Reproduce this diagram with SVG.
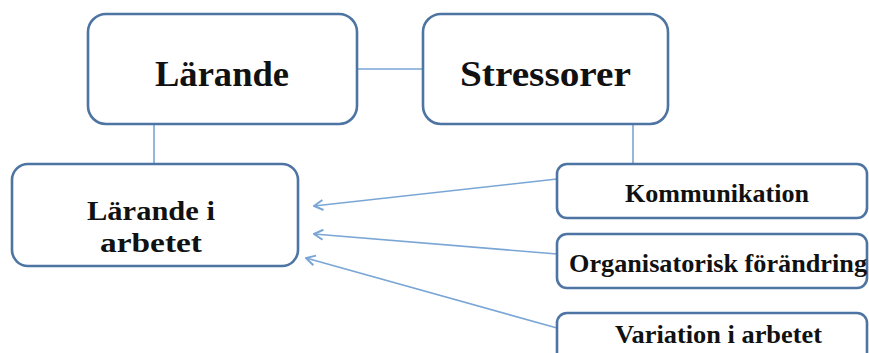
<svg xmlns="http://www.w3.org/2000/svg" width="869" height="353" viewBox="0 0 869 353">
<style>
.box{fill:#fff;stroke:#4d74a2;stroke-width:2.6}
.t{font-family:"Liberation Serif","DejaVu Serif",serif;font-weight:bold;fill:#111;text-anchor:start}
.ln{stroke:#7aa6d6;stroke-width:1.6;fill:none}
</style>
<defs>
<marker id="ah" viewBox="0 0 12 12" refX="11" refY="6" markerWidth="12" markerHeight="12" markerUnits="userSpaceOnUse" orient="auto">
<path d="M2,1 L11,6 L2,11" fill="none" stroke="#7aa6d6" stroke-width="2"/>
</marker>
</defs>
<g id="connectors">
<line class="ln" x1="357" y1="69" x2="423" y2="69"/>
<line class="ln" x1="154" y1="124" x2="154" y2="163"/>
<line class="ln" x1="633" y1="124" x2="633" y2="163"/>
<line class="ln" x1="557" y1="179" x2="314" y2="206" marker-end="url(#ah)"/>
<line class="ln" x1="557" y1="254" x2="314" y2="234" marker-end="url(#ah)"/>
<line class="ln" x1="557" y1="328" x2="306" y2="258" marker-end="url(#ah)"/>
</g>
<g id="larande">
<rect class="box" x="88" y="14" width="269" height="110" rx="18"/>
<text class="t" x="155" y="86" font-size="35" textLength="134" lengthAdjust="spacingAndGlyphs">Lärande</text>
</g>
<g id="stressorer">
<rect class="box" x="423" y="14" width="245" height="110" rx="18"/>
<text class="t" x="460" y="86" font-size="35" textLength="171" lengthAdjust="spacingAndGlyphs">Stressorer</text>
</g>
<g id="larande-i-arbetet">
<rect class="box" x="12" y="164" width="286" height="102" rx="16"/>
<text class="t" x="87" y="220" font-size="28" textLength="128" lengthAdjust="spacingAndGlyphs">Lärande i</text>
<text class="t" x="100" y="252" font-size="28" textLength="102" lengthAdjust="spacingAndGlyphs">arbetet</text>
</g>
<g id="kommunikation">
<rect class="box" x="557" y="164" width="310" height="54" rx="10"/>
<text class="t" x="625" y="202" font-size="25" textLength="184" lengthAdjust="spacingAndGlyphs">Kommunikation</text>
</g>
<g id="organisatorisk">
<rect class="box" x="557" y="234" width="310" height="54" rx="10"/>
<text class="t" x="569" y="272" font-size="25" textLength="298" lengthAdjust="spacingAndGlyphs">Organisatorisk förändring</text>
</g>
<g id="variation">
<rect class="box" x="557" y="313" width="310" height="54" rx="10"/>
<text class="t" x="615" y="343" font-size="25" textLength="207" lengthAdjust="spacingAndGlyphs">Variation i arbetet</text>
</g>
</svg>
